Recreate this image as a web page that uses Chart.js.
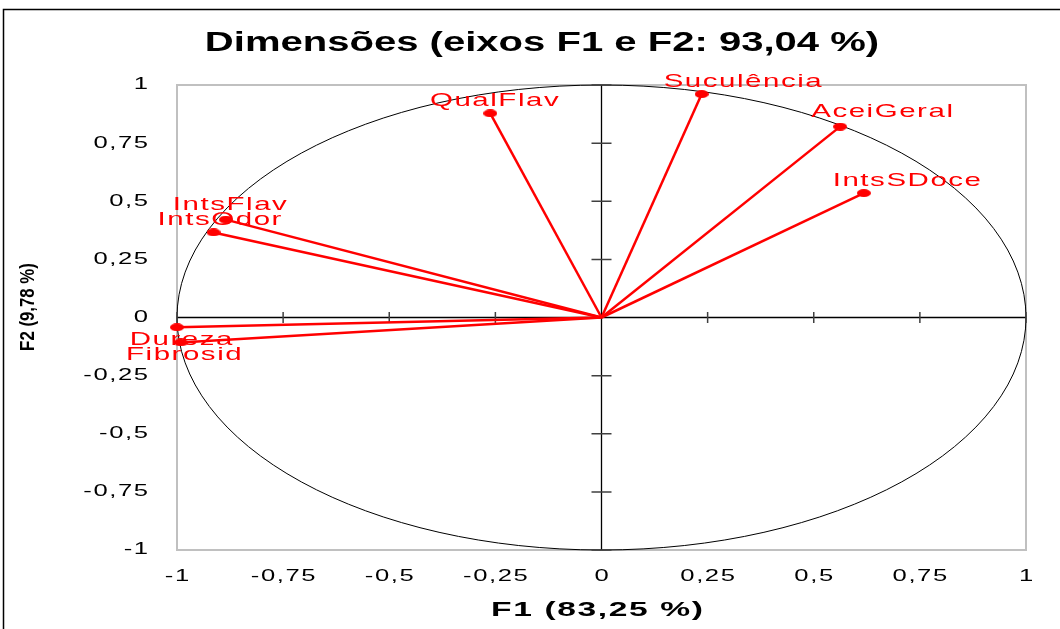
<!DOCTYPE html>
<html>
<head>
<meta charset="utf-8">
<script src="https://cdn.jsdelivr.net/npm/chart.js@4.4.1/dist/chart.umd.min.js"></script>
<style>
  body { margin: 0; background: #fff; }
  #wrap { width: 1060px; height: 629px; }
</style>
</head>
<body>
<div id="wrap"><canvas id="circleChart" width="1060" height="629"></canvas></div>
<script>
const variables = ['QualFlav', 'Suculência', 'AceiGeral', 'IntsSDoce', 'IntsFlav', 'IntsOdor', 'Dureza', 'Fibrosid'];
const f1Values = [-0.262, 0.236, 0.562, 0.618, -0.885, -0.914, -1.0, -0.991];
const f2Values = [0.878, 0.961, 0.821, 0.535, 0.421, 0.366, -0.042, -0.107];
const tickLabels = ['-1', '-0,75', '-0,5', '-0,25', '0', '0,25', '0,5', '0,75', '1'];

// where each variable name sits relative to its point (px)
const labelShift = [[4, -13], [41, -12], [42, -15], [43, -12], [4, -15], [6, -13], [4, 13], [3, 12]];

const RED = '#ff0000';
const FONT = '"Liberation Sans", Arial, sans-serif';

// small flat red dot used as the point marker
const dot = document.createElement('canvas');
dot.width = 14;
dot.height = 8;
const dctx = dot.getContext('2d');
dctx.fillStyle = RED;
dctx.beginPath();
dctx.ellipse(7, 4, 7, 4, 0, 0, Math.PI * 2);
dctx.fill();

// text drawn wide (horizontal stretch + letter spacing)
function wideText(ctx, text, x, y, o) {
  const sp = o.spacing || 0;
  const sx = o.stretch || 1;
  ctx.save();
  ctx.font = o.font;
  ctx.fillStyle = o.color || '#000';
  ctx.textBaseline = 'middle';
  ctx.textAlign = 'left';
  ctx.letterSpacing = '0px';
  const w = ctx.measureText(text).width + ([...text].length - 1) * sp;
  ctx.letterSpacing = sp + 'px';
  ctx.translate(x, y);
  if (o.rotate) ctx.rotate(o.rotate);
  ctx.scale(sx, 1);
  let left = -w / 2;
  if (o.align === 'right') left = -w;
  if (o.align === 'left') left = 0;
  ctx.fillText(text, left, 0);
  ctx.restore();
}

const circlePlugin = {
  id: 'circlePlot',
  beforeDatasetsDraw(chart) {
    const { ctx, chartArea: a, scales: { x, y } } = chart;
    const x0 = x.getPixelForValue(0);
    const y0 = y.getPixelForValue(0);
    const rx = x.getPixelForValue(1) - x0;
    const ry = y0 - y.getPixelForValue(1);
    ctx.save();
    // plot frame
    ctx.strokeStyle = '#c0c0c0';
    ctx.lineWidth = 2;
    ctx.strokeRect(a.left, a.top, a.right - a.left, a.bottom - a.top);
    // unit circle
    ctx.strokeStyle = '#000';
    ctx.lineWidth = 1;
    ctx.beginPath();
    ctx.ellipse(x0, y0, rx, ry, 0, 0, Math.PI * 2);
    ctx.stroke();
    // axes through the origin
    ctx.lineWidth = 1.3;
    ctx.beginPath();
    ctx.moveTo(a.left, y0);
    ctx.lineTo(a.right, y0);
    ctx.moveTo(x0, a.top);
    ctx.lineTo(x0, a.bottom);
    ctx.stroke();
    // tick marks on those axes
    ctx.strokeStyle = '#404040';
    ctx.lineWidth = 1.5;
    ctx.beginPath();
    x.ticks.forEach(t => {
      if (t.value === 0) return;
      const px = x.getPixelForValue(t.value);
      ctx.moveTo(px, y0 - 5.5);
      ctx.lineTo(px, y0 + 5.5);
    });
    y.ticks.forEach(t => {
      if (t.value === 0) return;
      const py = y.getPixelForValue(t.value);
      ctx.moveTo(x0 - 10, py);
      ctx.lineTo(x0 + 10, py);
    });
    ctx.stroke();
    ctx.restore();
  },
  afterDraw(chart) {
    const { ctx, chartArea: a, scales: { x, y } } = chart;

    // tick labels
    const tickFont = { font: '16px ' + FONT, stretch: 1.6, spacing: 1 };
    x.ticks.forEach((t, i) => {
      wideText(ctx, tickLabels[i], x.getPixelForValue(t.value), a.bottom + 27, tickFont);
    });
    y.ticks.forEach((t, i) => {
      wideText(ctx, tickLabels[i], a.left - 29, y.getPixelForValue(t.value), { ...tickFont, align: 'right' });
    });

    // variable names
    variables.forEach((name, i) => {
      const p = chart.getDatasetMeta(i).data[1];
      wideText(ctx, name, p.x + labelShift[i][0], p.y + labelShift[i][1],
        { font: '19px ' + FONT, stretch: 1.55, spacing: 1, color: RED });
    });

    // titles
    wideText(ctx, 'Dimensões (eixos F1 e F2: 93,04 %)', 542, 43,
      { font: 'bold 28px ' + FONT, stretch: 1.43 });
    wideText(ctx, 'F1 (83,25 %)', 597, 610,
      { font: 'bold 21px ' + FONT, stretch: 1.6, spacing: 1 });
    wideText(ctx, 'F2 (9,78 %)', 28, 307,
      { font: 'bold 21px ' + FONT, stretch: 0.8, rotate: -Math.PI / 2 });

    // outer frame
    ctx.save();
    ctx.strokeStyle = '#000';
    ctx.lineWidth = 1.5;
    ctx.beginPath();
    ctx.moveTo(3.5, 629);
    ctx.lineTo(3.5, 9.5);
    ctx.lineTo(1060, 9.5);
    ctx.stroke();
    ctx.restore();
  }
};

const datasets = variables.map((name, i) => ({
  label: name,
  data: [{ x: 0, y: 0 }, { x: f1Values[i], y: f2Values[i] }],
  showLine: true,
  borderColor: RED,
  backgroundColor: RED,
  borderWidth: 2.5,
  pointStyle: c => (c.dataIndex === 1 ? dot : false),
  pointRadius: 5,
  clip: false
}));

new Chart(document.getElementById('circleChart'), {
  type: 'scatter',
  data: { datasets: datasets },
  options: {
    responsive: false,
    animation: false,
    events: [],
    layout: { padding: { top: 85, right: 34, left: 0, bottom: 0 } },
    plugins: {
      legend: { display: false },
      tooltip: { enabled: false }
    },
    scales: {
      x: {
        type: 'linear',
        min: -1,
        max: 1,
        ticks: { stepSize: 0.25, display: false },
        grid: { display: false },
        border: { display: false },
        afterFit(s) { s.height = 79; }
      },
      y: {
        type: 'linear',
        min: -1,
        max: 1,
        ticks: { stepSize: 0.25, display: false },
        grid: { display: false },
        border: { display: false },
        afterFit(s) { s.width = 177; }
      }
    }
  },
  plugins: [circlePlugin]
});
</script>
</body>
</html>
